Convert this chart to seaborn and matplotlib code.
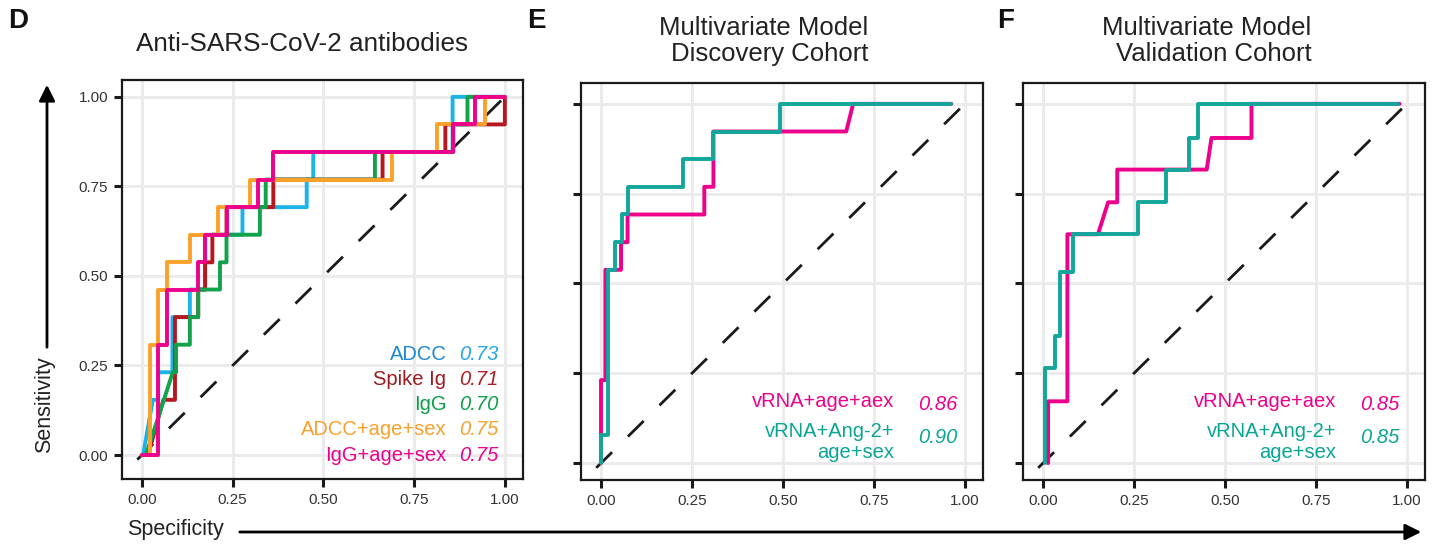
import numpy as np
import matplotlib
matplotlib.use("Agg")
import matplotlib.pyplot as plt
from matplotlib.patches import FancyArrowPatch
import seaborn as sns

# ---- data (x = 1 - specificity axis as drawn, y = sensitivity) ----
# panel D: anti-SARS-CoV-2 antibodies
adcc_x = [0, 0.003, 0.03, 0.045, 0.045, 0.084, 0.084, 0.132, 0.132, 0.174, 0.174, 0.277, 0.277, 0.454, 0.454, 0.472, 0.472, 0.856, 0.856, 1.0]
adcc_y = [0, 0, 0.154, 0.154, 0.231, 0.231, 0.385, 0.385, 0.462, 0.462, 0.615, 0.615, 0.692, 0.692, 0.769, 0.769, 0.846, 0.846, 1.0, 1.0]
spike_x = [0, 0.017, 0.059, 0.091, 0.091, 0.155, 0.155, 0.174, 0.174, 0.194, 0.194, 0.233, 0.233, 0.362, 0.362, 0.663, 0.663, 0.836, 0.836, 1.0, 1.0]
spike_y = [0, 0, 0.154, 0.154, 0.385, 0.385, 0.462, 0.462, 0.538, 0.538, 0.615, 0.615, 0.692, 0.692, 0.769, 0.769, 0.846, 0.846, 0.923, 0.923, 1.0]
igg_x = [0, 0.011, 0.085, 0.094, 0.094, 0.132, 0.132, 0.155, 0.155, 0.215, 0.215, 0.233, 0.233, 0.325, 0.325, 0.341, 0.341, 0.642, 0.642, 0.858, 0.858, 0.897, 0.897, 1.0]
igg_y = [0, 0, 0.231, 0.231, 0.308, 0.308, 0.385, 0.385, 0.462, 0.462, 0.538, 0.538, 0.615, 0.615, 0.692, 0.692, 0.769, 0.769, 0.846, 0.846, 0.923, 0.923, 1.0, 1.0]
adcc_as_x = [0, 0.022, 0.022, 0.045, 0.045, 0.068, 0.068, 0.132, 0.132, 0.21, 0.21, 0.298, 0.298, 0.688, 0.688, 0.812, 0.812, 0.945, 0.945, 1.0]
adcc_as_y = [0, 0, 0.308, 0.308, 0.462, 0.462, 0.538, 0.538, 0.615, 0.615, 0.692, 0.692, 0.769, 0.769, 0.846, 0.846, 0.923, 0.923, 1.0, 1.0]
igg_as_x = [0, 0.045, 0.045, 0.068, 0.068, 0.155, 0.155, 0.174, 0.174, 0.233, 0.233, 0.32, 0.32, 0.362, 0.362, 0.858, 0.858, 0.917, 0.917, 1.0]
igg_as_y = [0, 0, 0.308, 0.308, 0.462, 0.462, 0.538, 0.538, 0.615, 0.615, 0.692, 0.692, 0.769, 0.769, 0.846, 0.846, 0.923, 0.923, 1.0, 1.0]
d_labels = ["ADCC", "Spike Ig", "IgG", "ADCC+age+sex", "IgG+age+sex"]
d_auc = ["0.73", "0.71", "0.70", "0.75", "0.75"]

# panel E: discovery cohort
e_vrna_x = [0, 0, 0.012, 0.012, 0.055, 0.055, 0.073, 0.073, 0.284, 0.284, 0.309, 0.309, 0.674, 0.693, 0.963]
e_vrna_y = [0, 0.231, 0.231, 0.538, 0.538, 0.615, 0.615, 0.692, 0.692, 0.769, 0.769, 0.923, 0.923, 1.0, 1.0]
e_ang_x = [0, 0, 0.018, 0.018, 0.039, 0.039, 0.058, 0.058, 0.073, 0.073, 0.225, 0.225, 0.307, 0.307, 0.491, 0.491, 0.963]
e_ang_y = [0, 0.077, 0.077, 0.538, 0.538, 0.615, 0.615, 0.692, 0.692, 0.769, 0.769, 0.846, 0.846, 0.923, 0.923, 1.0, 1.0]
e_auc = ["0.86", "0.90"]

# panel F: validation cohort
f_vrna_x = [0.014, 0.014, 0.067, 0.067, 0.151, 0.179, 0.204, 0.204, 0.45, 0.463, 0.573, 0.573, 0.98]
f_vrna_y = [0, 0.172, 0.172, 0.637, 0.637, 0.726, 0.726, 0.817, 0.817, 0.905, 0.905, 1.0, 1.0]
f_ang_x = [0.005, 0.005, 0.032, 0.032, 0.046, 0.046, 0.083, 0.083, 0.261, 0.261, 0.337, 0.337, 0.402, 0.402, 0.427, 0.427, 0.977]
f_ang_y = [0, 0.265, 0.265, 0.353, 0.353, 0.532, 0.532, 0.637, 0.637, 0.726, 0.726, 0.817, 0.817, 0.905, 0.905, 1.0, 1.0]
f_auc = ["0.85", "0.85"]

model_labels = ["vRNA+age+aex", "vRNA+Ang-2+\nage+sex"]
ticks = [0, 0.25, 0.5, 0.75, 1.0]
tick_labels = ["0.00", "0.25", "0.50", "0.75", "1.00"]

BLUE, RED, GREEN, ORANGE, PINK, TEAL = "#1CB3E9", "#B7181F", "#12A24B", "#F9A12A", "#EC008C", "#13A69B"

sns.set_theme(style="whitegrid")
plt.rcParams["font.family"] = ["Liberation Sans", "DejaVu Sans"]

W, H = 1437, 545
fig = plt.figure(figsize=(W / 100, H / 100), dpi=100)


def box(l, t, r, b):
    return [l / W, 1 - b / H, (r - l) / W, (b - t) / H]


def style(ax, xlim, ylim, ylabels=True):
    ax.set_xlim(*xlim)
    ax.set_ylim(*ylim)
    ax.set_xticks(ticks)
    ax.set_xticklabels(tick_labels)
    ax.set_yticks(ticks)
    ax.set_yticklabels(tick_labels if ylabels else [])
    ax.grid(True, color="#EBEBEB", lw=2.1)
    ax.set_axisbelow(True)
    for s in ax.spines.values():
        s.set_color("#1a1a1a")
        s.set_linewidth(1.6)
    ax.tick_params(axis="both", which="major", bottom=True, left=True, length=6,
                   width=2.2, color="#1a1a1a", labelsize=11, labelcolor="#333333", pad=4)
    ax.set_xlabel("")
    ax.set_ylabel("")
    ax.set_facecolor("white")


def diag(ax):
    ax.plot([-0.1, 1.015], [-0.1, 1.015], color="#1a1a1a", lw=2.0, ls=(0, (8, 8)), zorder=1)


def curve(ax, xs, ys, c):
    sns.lineplot(x=xs, y=ys, sort=False, estimator=None, color=c, lw=2.8, ax=ax, zorder=3)


# ---- panel D ----
axD = fig.add_axes(box(122, 80, 523, 479))
diag(axD)
for xs, ys, c in [(adcc_x, adcc_y, BLUE), (spike_x, spike_y, RED), (igg_x, igg_y, GREEN),
                  (adcc_as_x, adcc_as_y, ORANGE), (igg_as_x, igg_as_y, PINK)]:
    curve(axD, xs, ys, c)
style(axD, (-0.055, 1.05), (-0.067, 1.047))
lab_cols = ["#1F88D2", "#9B1B1F", "#0E9F49", ORANGE, PINK]
val_cols = ["#23A6E3", "#B01C22", "#0E9F49", ORANGE, PINK]
for i, (lab, auc) in enumerate(zip(d_labels, d_auc)):
    yy = 0.28 - 0.07 * i
    axD.text(0.839, yy, lab, color=lab_cols[i], ha="right", va="center", fontsize=14.5)
    axD.text(0.982, yy, auc, color=val_cols[i], ha="right", va="center", fontsize=14.5, style="italic")

# ---- panels E and F ----
for (l, r), vx, vy, ax_, ay, aucs in [((581, 983), e_vrna_x, e_vrna_y, e_ang_x, e_ang_y, e_auc),
                                      ((1023, 1425), f_vrna_x, f_vrna_y, f_ang_x, f_ang_y, f_auc)]:
    ax = fig.add_axes(box(l, 83, r, 480))
    diag(ax)
    curve(ax, vx, vy, PINK)
    curve(ax, ax_, ay, TEAL)
    style(ax, (-0.055, 1.05), (-0.047, 1.058), ylabels=False)
    ax.text(0.807, 0.172, model_labels[0], color=PINK, ha="right", va="center", fontsize=14.5)
    ax.text(0.98, 0.163, aucs[0], color=PINK, ha="right", va="center", fontsize=14.5, style="italic")
    ax.text(0.807, 0.058, model_labels[1], color="#0AA695", ha="right", va="center",
            fontsize=14.5, multialignment="right", linespacing=1.15)
    ax.text(0.98, 0.07, aucs[1], color="#0AA695", ha="right", va="center", fontsize=14.5, style="italic")

# ---- titles, panel letters ----
fig.text(302 / W, 1 - 44 / H, "Anti-SARS-CoV-2 antibodies", ha="center", va="center", fontsize=18.8, color="#222222")
fig.text(764 / W, 1 - 41 / H, "Multivariate Model\nDiscovery Cohort", ha="center", va="center",
         fontsize=18.5, color="#222222", multialignment="right", linespacing=1.1)
fig.text(1207 / W, 1 - 41 / H, "Multivariate Model\nValidation Cohort", ha="center", va="center",
         fontsize=18.5, color="#222222", multialignment="right", linespacing=1.1)
for lx, letter in [(8, "D"), (527, "E"), (997, "F")]:
    fig.text(lx / W, 1 - 21 / H, letter, ha="left", va="center", fontsize=20, fontweight="bold", color="#111111")

# ---- axis labels with arrows ----
fig.text(45 / W, 1 - 405 / H, "Sensitivity", rotation=90, ha="center", va="center", fontsize=15.5, color="#222222")
fig.text(175 / W, 1 - 530 / H, "Specificity", ha="center", va="center", fontsize=15.5, color="#222222")
fig.patches.append(FancyArrowPatch((47 / W, 1 - 350 / H), (47 / W, 1 - 82 / H), transform=fig.transFigure,
                                   arrowstyle="-|>", mutation_scale=24, lw=2, color="black"))
fig.patches.append(FancyArrowPatch((237 / W, 1 - 532 / H), (1424 / W, 1 - 532 / H), transform=fig.transFigure,
                                   arrowstyle="-|>", mutation_scale=24, lw=2, color="black"))

fig.savefig("out.png", dpi=100, facecolor="white")
